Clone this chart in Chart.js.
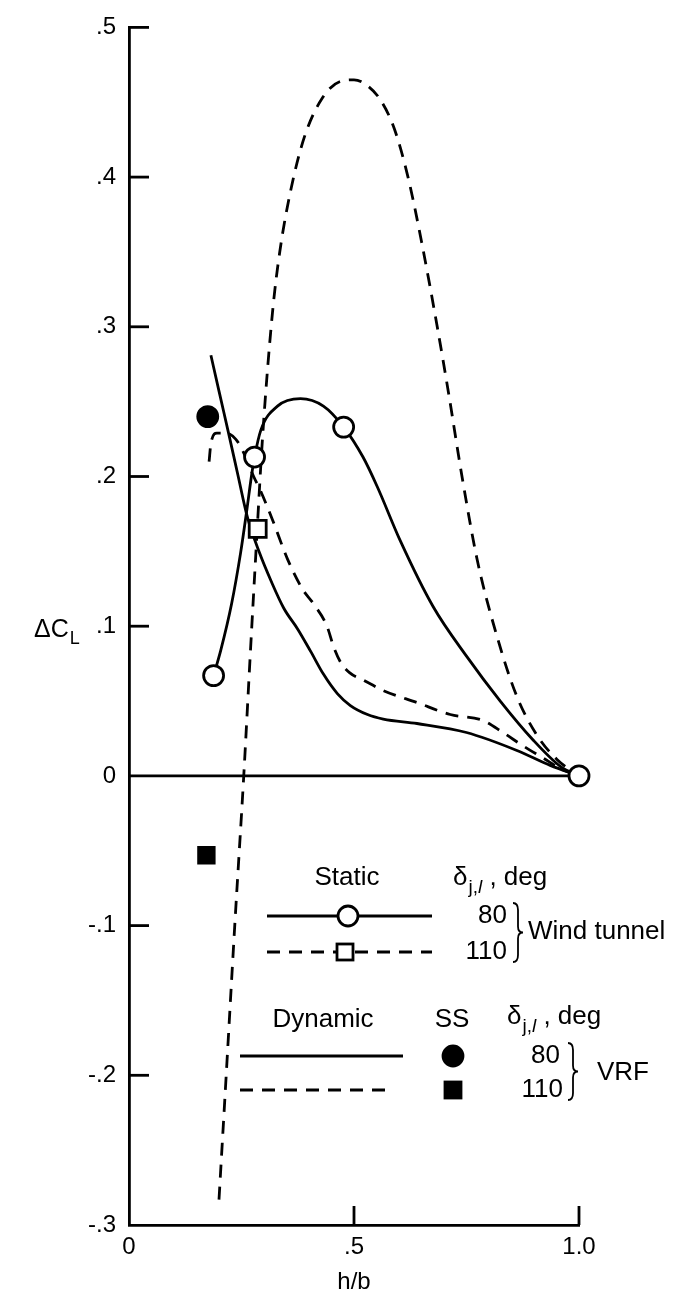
<!DOCTYPE html>
<html>
<head>
<meta charset="utf-8">
<script src="https://cdn.jsdelivr.net/npm/chart.js@4.4.1/dist/chart.umd.min.js"></script>
<style>
  html, body { margin: 0; padding: 0; background: #fff; }
  #chart { display: block; }
</style>
</head>
<body>
<canvas id="chart" width="684" height="1297"></canvas>
<script>
// axis ticks (h/b and delta C_L)
const xTicks = [0, 0.5, 1.0];
const xLabels = ['0', '.5', '1.0'];
const yTicks = [-0.3, -0.2, -0.1, 0, 0.1, 0.2, 0.3, 0.4, 0.5];
const yLabels = ['-.3', '-.2', '-.1', '0', '.1', '.2', '.3', '.4', '.5'];

// zero reference line
const zeroX = [0, 1.0];
const zeroY = [0, 0];

// static, wind tunnel, 80 deg (solid curve + open circles)
const static80X = [0.188, 0.204, 0.228, 0.248, 0.262, 0.272, 0.279, 0.293, 0.33, 0.381, 0.432, 0.477, 0.52, 0.552, 0.603, 0.676, 0.75, 0.825, 0.898, 0.96, 1.0];
const static80Y = [0.067, 0.084, 0.115, 0.149, 0.178, 0.2, 0.213, 0.231, 0.247, 0.252, 0.247, 0.233, 0.213, 0.193, 0.157, 0.113, 0.08, 0.05, 0.024, 0.006, 0.0];
const static80PtX = [0.188, 0.279, 0.477, 1.0];
const static80PtY = [0.067, 0.213, 0.233, 0.0];

// static, wind tunnel, 110 deg (dashed curve + open square)
const static110X = [0.2, 0.216, 0.235, 0.255, 0.27, 0.282, 0.297, 0.319, 0.335, 0.36, 0.39, 0.43, 0.47, 0.5, 0.53, 0.56, 0.59, 0.62, 0.65, 0.685, 0.71, 0.74, 0.774, 0.818, 0.862, 0.907, 0.951, 1.0];
const static110Y = [-0.283, -0.2, -0.1, 0.0, 0.084, 0.149, 0.227, 0.31, 0.35, 0.392, 0.427, 0.453, 0.464, 0.465, 0.461, 0.451, 0.432, 0.4, 0.357, 0.3, 0.256, 0.2, 0.144, 0.093, 0.053, 0.027, 0.011, 0.0];
const static110PtX = [0.286];
const static110PtY = [0.165];

// dynamic, VRF, 80 deg (solid)
const dyn80X = [0.182, 0.2, 0.222, 0.242, 0.263, 0.29, 0.316, 0.344, 0.375, 0.404, 0.432, 0.463, 0.492, 0.53, 0.565, 0.64, 0.75, 0.862, 0.936, 1.0];
const dyn80Y = [0.281, 0.257, 0.228, 0.201, 0.173, 0.149, 0.13, 0.112, 0.098, 0.083, 0.068, 0.055, 0.047, 0.041, 0.038, 0.035, 0.029, 0.017, 0.007, 0.0];

// dynamic, VRF, 110 deg (dashed)
const dyn110X = [0.178, 0.182, 0.195, 0.215, 0.237, 0.253, 0.277, 0.293, 0.319, 0.352, 0.385, 0.41, 0.44, 0.455, 0.47, 0.49, 0.521, 0.565, 0.64, 0.714, 0.787, 0.831, 0.876, 0.92, 0.958, 1.0];
const dyn110Y = [0.21, 0.222, 0.229, 0.229, 0.225, 0.217, 0.2, 0.19, 0.171, 0.145, 0.125, 0.115, 0.1, 0.086, 0.076, 0.069, 0.064, 0.057, 0.049, 0.041, 0.037, 0.029, 0.02, 0.012, 0.005, 0.0];

// steady state (SS) points
const ss80X = [0.175];
const ss80Y = [0.24];
const ss110X = [0.172];
const ss110Y = [-0.053];

const FONT = '"Liberation Sans", Arial, Helvetica, sans-serif';
const DASH = [13, 9];
const LW = 2.8;
const LEG = 26; // legend font size

function pts(xs, ys) {
  return xs.map((x, i) => ({ x: x, y: ys[i] }));
}

function curve(xs, ys, dashed) {
  return {
    data: pts(xs, ys),
    showLine: true,
    borderColor: '#000',
    borderWidth: LW,
    borderDash: dashed ? DASH : [],
    pointRadius: 0,
    cubicInterpolationMode: 'monotone',
    order: 5,
  };
}

function marker(xs, ys, style, radius, fill) {
  return {
    data: pts(xs, ys),
    showLine: false,
    pointStyle: style,
    pointRadius: radius,
    pointBackgroundColor: fill,
    pointBorderColor: '#000',
    pointBorderWidth: LW,
    clip: false,
    order: 0,
  };
}

// small helpers for the legend / labels
function line(ctx, x1, y1, x2, y2, dash) {
  ctx.setLineDash(dash || []);
  ctx.beginPath();
  ctx.moveTo(x1, y1);
  ctx.lineTo(x2, y2);
  ctx.stroke();
  ctx.setLineDash([]);
}

function text(ctx, str, x, y, align, size, style) {
  ctx.font = (style || '') + ' ' + size + 'px ' + FONT;
  ctx.textAlign = align;
  ctx.textBaseline = 'middle';
  ctx.fillText(str, x, y);
  return ctx.measureText(str).width;
}

function deltaLabel(ctx, x, y) {
  let cx = x;
  cx += text(ctx, '\u03b4', cx, y, 'left', LEG);
  cx += 1;
  cx += text(ctx, 'j,', cx, y + 10, 'left', 19);
  cx += text(ctx, 'l', cx, y + 10, 'left', 19, 'italic');
  text(ctx, ' , deg', cx, y, 'left', LEG);
}

function brace(ctx, x, y1, y2) {
  const m = (y1 + y2) / 2;
  ctx.lineWidth = 1.8;
  ctx.beginPath();
  ctx.moveTo(x, y1);
  ctx.quadraticCurveTo(x + 5, y1, x + 5, y1 + 7);
  ctx.lineTo(x + 5, m - 6);
  ctx.quadraticCurveTo(x + 5, m, x + 10, m);
  ctx.quadraticCurveTo(x + 5, m, x + 5, m + 6);
  ctx.lineTo(x + 5, y2 - 7);
  ctx.quadraticCurveTo(x + 5, y2, x, y2);
  ctx.stroke();
  ctx.lineWidth = LW;
}

function dot(ctx, x, y, r, fill) {
  ctx.beginPath();
  ctx.arc(x, y, r, 0, Math.PI * 2);
  ctx.fillStyle = fill;
  ctx.fill();
  ctx.stroke();
  ctx.fillStyle = '#000';
}

function square(ctx, x, y, s, fill) {
  ctx.fillStyle = fill;
  ctx.fillRect(x - s / 2, y - s / 2, s, s);
  ctx.strokeRect(x - s / 2, y - s / 2, s, s);
  ctx.fillStyle = '#000';
}

const decor = {
  id: 'decor',
  beforeDraw(chart) {
    const ctx = chart.ctx;
    ctx.save();
    ctx.fillStyle = '#fff';
    ctx.fillRect(0, 0, chart.width, chart.height);
    ctx.restore();
  },
  afterDraw(chart) {
    const { ctx, scales: { x, y } } = chart;
    ctx.save();
    ctx.strokeStyle = '#000';
    ctx.fillStyle = '#000';
    ctx.lineWidth = LW;

    // inward tick marks
    const left = x.getPixelForValue(0);
    const bottom = y.getPixelForValue(-0.3);
    yTicks.forEach(v => {
      if (v === 0 || v === -0.3) return;
      const py = y.getPixelForValue(v);
      line(ctx, left, py, left + 20, py);
    });
    xTicks.forEach(v => {
      if (v === 0) return;
      const px = x.getPixelForValue(v);
      line(ctx, px, bottom, px, bottom - 19);
    });

    // axis titles
    text(ctx, 'h/b', x.getPixelForValue(0.5), 1282, 'center', 24);
    let w = text(ctx, '\u0394C', 34, 630, 'left', 25);
    text(ctx, 'L', 35 + w, 639, 'left', 18);

    // legend: wind tunnel
    text(ctx, 'Static', 347, 878, 'center', LEG);
    deltaLabel(ctx, 453, 878);
    line(ctx, 267, 916, 432, 916);
    dot(ctx, 348, 916, 10, '#fff');
    text(ctx, '80', 507, 916, 'right', LEG);
    line(ctx, 267, 952, 432, 952, DASH);
    square(ctx, 345, 952, 16, '#fff');
    text(ctx, '110', 507, 952, 'right', LEG);
    brace(ctx, 513, 903, 962);
    text(ctx, 'Wind tunnel', 528, 932, 'left', LEG);

    // legend: VRF
    text(ctx, 'Dynamic', 323, 1020, 'center', LEG);
    text(ctx, 'SS', 452, 1020, 'center', LEG);
    deltaLabel(ctx, 507, 1017);
    line(ctx, 240, 1056, 403, 1056);
    dot(ctx, 453, 1056, 10, '#000');
    text(ctx, '80', 560, 1056, 'right', LEG);
    line(ctx, 240, 1090, 393, 1090, DASH);
    square(ctx, 453, 1090, 16, '#000');
    text(ctx, '110', 563, 1090, 'right', LEG);
    brace(ctx, 568, 1043, 1100);
    text(ctx, 'VRF', 597, 1073, 'left', LEG);

    ctx.restore();
  }
};

new Chart(document.getElementById('chart'), {
  type: 'scatter',
  data: {
    datasets: [
      marker(static80PtX, static80PtY, 'circle', 10, '#fff'),
      marker(static110PtX, static110PtY, 'rect', 12, '#fff'),
      marker(ss80X, ss80Y, 'circle', 10, '#000'),
      marker(ss110X, ss110Y, 'rect', 11, '#000'),
      curve(static80X, static80Y, false),
      curve(static110X, static110Y, true),
      curve(dyn80X, dyn80Y, false),
      curve(dyn110X, dyn110Y, true),
      curve(zeroX, zeroY, false),
    ],
  },
  options: {
    responsive: false,
    animation: false,
    devicePixelRatio: 1,
    layout: { autoPadding: false, padding: { top: 23, right: 105, left: 0, bottom: 0 } },
    plugins: { legend: { display: false }, tooltip: { enabled: false } },
    scales: {
      x: {
        type: 'linear',
        min: 0,
        max: 1.0,
        afterBuildTicks: s => { s.ticks = xTicks.map(v => ({ value: v })); },
        afterFit: s => { s.height = 72; },
        grid: { display: false, drawTicks: false },
        border: { display: true, color: '#000', width: LW },
        ticks: {
          padding: 8,
          color: '#000',
          font: { family: FONT, size: 24 },
          callback: (v, i) => xLabels[i],
        },
      },
      y: {
        type: 'linear',
        min: -0.3,
        max: 0.5,
        afterBuildTicks: s => { s.ticks = yTicks.map(v => ({ value: v })); },
        afterFit: s => { s.width = 129; },
        grid: { display: false, drawTicks: false },
        border: { display: true, color: '#000', width: LW },
        ticks: {
          padding: 13,
          color: '#000',
          font: { family: FONT, size: 24 },
          callback: (v, i) => yLabels[i],
        },
      },
    },
  },
  plugins: [decor],
});
</script>
</body>
</html>
